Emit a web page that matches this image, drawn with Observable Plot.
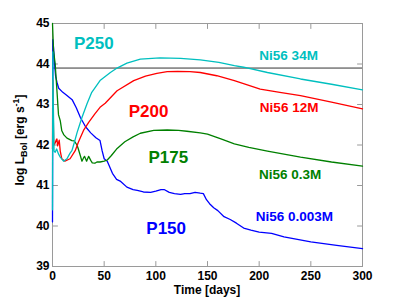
<!DOCTYPE html>
<html>
<head>
<meta charset="utf-8">
<script src="https://cdn.jsdelivr.net/npm/d3@7"></script>
<script src="https://cdn.jsdelivr.net/npm/@observablehq/plot@0.6"></script>
<style>
  html, body { margin: 0; padding: 0; background: #fff; }
  svg { font-family: "Liberation Sans", Arial, sans-serif; }
</style>
</head>
<body>
<div id="chart"></div>
<script>
// ---- data ----
const xTicks = [0, 50, 100, 150, 200, 250, 300];
const yTicks = [39, 40, 41, 42, 43, 44, 45];
const thresholdLevel = 43.9;

const p150Days = [0,0.3,1,2,3,4.3,6,10,14,19,23,27,32,37,42,46,48,50,53,58,62,66,72,78,82,88,95,100,105,108,113,118,124,128,133,138,143,146,149,152,156,160,166,172,178,185,192,200,212,224,250,275,300];
const p150Lum  = [40.1,44.6,44.4,44.0,43.7,43.55,43.4,43.3,43.22,43.12,42.92,42.68,42.45,42.3,42.18,42.11,41.86,41.66,41.6,41.3,41.15,41.1,40.96,40.9,40.88,40.84,40.83,40.86,40.9,40.9,40.83,40.8,40.78,40.8,40.8,40.83,40.81,40.8,40.65,40.55,40.45,40.38,40.23,40.16,40.07,39.95,39.9,39.85,39.82,39.73,39.61,39.52,39.44];

const p175Days = [0,1,2.6,4.3,5.8,7.5,9,11,14,18.8,21,23.7,25,26.9,28.5,30,31,33,35,37,38.5,41,43,46,50,53,57,62,70,78,85,98,111,122,130,143,150,163,176,190,208,240,270,300];
const p175Lum  = [45,44.33,44.0,43.34,42.75,42.6,42.35,42.25,42.17,42.11,42.1,42.0,41.9,41.74,41.6,41.68,41.72,41.6,41.72,41.62,41.56,41.55,41.58,41.58,41.6,41.63,41.74,41.9,42.08,42.2,42.29,42.36,42.37,42.36,42.34,42.3,42.27,42.15,42.03,41.94,41.85,41.7,41.58,41.48];

const p200Days = [0,0.2,0.6,1.2,2.6,3.5,4.3,5,6.5,7.5,9,12,17,22,25,30,35,41,46,51,62.5,78.6,90,101,111,121,133,143,159,176,190,201,220,240,270,300];
const p200Lum  = [41.9,43.6,43.0,42.0,42.05,42.12,42.15,41.98,42.12,41.85,41.66,41.6,41.66,41.86,42.07,42.36,42.56,42.77,42.93,43.03,43.34,43.59,43.7,43.77,43.81,43.82,43.81,43.79,43.71,43.59,43.47,43.38,43.3,43.22,43.06,42.89];

const p250Days = [0,0.3,0.8,1.5,2.6,4,5.8,7.5,10.7,14,17,18.8,21,23.7,28.5,33.4,38,46,56,62.5,72,85,104,124,143,161,176,185,208,240,270,300];
const p250Lum  = [40.4,44.3,43.0,41.85,41.82,41.9,41.78,41.7,41.6,41.66,41.8,41.86,42.05,42.3,42.68,43.02,43.3,43.59,43.79,43.9,44.02,44.12,44.15,44.14,44.1,44.04,43.96,43.92,43.79,43.63,43.5,43.36];

const modelNames  = ["P150", "P175", "P200", "P250"];
const modelColors = ["#0000ff", "#008000", "#ff0000", "#00bfbf"];
const nickelNames = ["Ni56 0.003M", "Ni56 0.3M", "Ni56 12M", "Ni56 34M"];
// label anchors in data units (days, log L)
const modelLabelDay = [110, 112, 93, 40];
const modelLabelLum = [39.94, 41.69, 42.83, 44.5];
const nickelLabelDay = [234, 230, 229, 228.5];
const nickelLabelLum = [40.24, 41.27, 42.92, 44.2];

// ---- build table ----
const seriesDays = [p150Days, p175Days, p200Days, p250Days];
const seriesLum = [p150Lum, p175Lum, p200Lum, p250Lum];
const rows = [];
modelNames.forEach((m, i) => {
  seriesDays[i].forEach((d, j) => rows.push({model: m, day: d, lum: seriesLum[i][j]}));
});
const modelLabels = modelNames.map((m, i) => ({model: m, day: modelLabelDay[i], lum: modelLabelLum[i]}));
const nickelLabels = nickelNames.map((n, i) => ({text: n, model: modelNames[i], day: nickelLabelDay[i], lum: nickelLabelLum[i]}));

const xMin = 0, xMax = 300, yMin = 39, yMax = 45;
const tickShape = {draw(context, l) { context.moveTo(0, 0); context.lineTo(0, -l); }};
const tickStyle = {length: 5, anchor: "start", shape: tickShape, stroke: "#9a9a9a", strokeWidth: 1};

const chart = Plot.plot({
  width: 399,
  height: 299,
  marginLeft: 52,
  marginRight: 37,
  marginTop: 23,
  marginBottom: 33,
  style: {fontFamily: "Liberation Sans, Arial, sans-serif", background: "#fff"},
  x: {domain: [xMin, xMax]},
  y: {domain: [yMin, yMax]},
  color: {domain: modelNames, range: modelColors},
  marks: [
    // inward ticks on all four sides
    Plot.vector(xTicks, {x: d => d, y: () => yMin, rotate: 0, ...tickStyle}),
    Plot.vector(xTicks, {x: d => d, y: () => yMax, rotate: 180, ...tickStyle}),
    Plot.vector(yTicks, {y: d => d, x: () => xMin, rotate: 90, ...tickStyle}),
    Plot.vector(yTicks, {y: d => d, x: () => xMax, rotate: -90, ...tickStyle}),
    Plot.frame({stroke: "#9a9a9a"}),
    Plot.ruleY([thresholdLevel], {stroke: "#333", strokeWidth: 1}),
    Plot.line(rows, {x: "day", y: "lum", z: "model", stroke: "model", strokeWidth: 1.3}),
    Plot.text(modelLabels, {x: "day", y: "lum", text: "model", fill: "model", fontSize: 17, fontWeight: "bold"}),
    Plot.text(nickelLabels, {x: "day", y: "lum", text: "text", fill: "model", fontSize: 13.5, fontWeight: "bold"}),
    Plot.axisX(xTicks, {anchor: "bottom", tickSize: 0, tickPadding: 5, color: "#000", fontSize: 12, fontWeight: "bold", label: null}),
    Plot.axisY(yTicks, {anchor: "left", tickSize: 0, tickPadding: 3, color: "#000", fontSize: 12, fontWeight: "bold", label: null})
  ]
});

document.getElementById("chart").appendChild(chart);

// axis titles with sub/superscripts
const svg = d3.select(chart);
svg.append("text")
  .attr("x", 207).attr("y", 294)
  .attr("text-anchor", "middle")
  .attr("font-size", 12).attr("font-weight", "bold").attr("fill", "#000")
  .text("Time [days]");

const yl = svg.append("text")
  .attr("transform", "translate(24,140) rotate(-90)")
  .attr("text-anchor", "middle")
  .attr("font-size", 12).attr("font-weight", "bold").attr("fill", "#000");
yl.append("tspan").text("log L");
yl.append("tspan").attr("font-size", 9).attr("dy", 3).text("Bol");
yl.append("tspan").attr("dy", -3).text(" [erg s");
yl.append("tspan").attr("font-size", 9).attr("dy", -5).text("-1");
yl.append("tspan").attr("dy", 5).text("]");
</script>
</body>
</html>
